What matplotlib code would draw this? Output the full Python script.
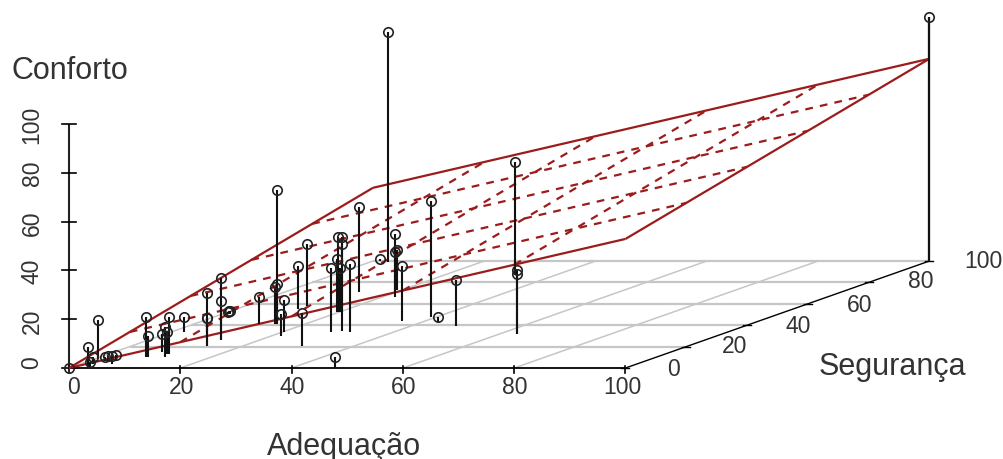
import numpy as np
import matplotlib
matplotlib.use("Agg")
import matplotlib.pyplot as plt

plt.rcParams['font.family'] = ['Liberation Sans', 'DejaVu Sans']

# values
adequacao = [0, 3.2, 0.6, 2.3, 3.2, 3.4, 5.7, 4.9, 2.9, 8.2, 8.4, 10.8, 2.3, 11.6, 8.5, 10.5,
             13.5, 13.5, 6.5, 13, 13, 1.2, 1.4, 1.0, 13.3, 14.6, 15.0, 11.7, 21.7, 20.3, 11.1,
             11, 30.6, 28.7, 47.8, 30.2, 20.0, 20.6, 19.8, 20.3, 32.2, 13.3, 3.2, 1.3, 22.6,
             35.8, 18.7, 19.1, 39, 42.8, 48.2, 63, 63, 32, 100]
seguranca = [0, 0.5, 8.4, 3.7, 1, 6.5, 3.7, 6.5, 6.5, 10.3, 10.5, 13, 33.6, 10.3, 15, 13,
             20.6, 20.6, 33.6, 26.2, 26.2, 50.5, 50.5, 50.5, 44, 41, 41, 41, 30, 33.6, 55,
             58, 20.6, 33.6, 0, 34.6, 52, 52, 52, 52, 33.6, 71, 99, 100, 66,
             44, 73, 73, 47.7, 43, 39, 32, 32, 88, 100]
conforto = [0, 8.2, 16, 2.9, 2, 2, 3.3, 2.5, 1.6, 16.4, 8.6, 15.2, 6.1, 12.3, 7.4, 9,
            21.7, 11.6, 5.7, 25.4, 16, 1.2, 1.4, 1.0, 53.7, 15.2, 16.4, 11, 9, 13, 17.6,
            25.4, 13.5, 26.2, 4.5, 38.5, 30.7, 28, 22, 18, 27.9, 34.8, 94.3, 1, 25.8,
            22.5, 15.6, 16.5, 47.5, 2, 18.9, 26.2, 24.6, 46, 100]

# regression plane
plane_a = 0.0
plane_x = 0.529
plane_y = 0.30

ticks = [0, 20, 40, 60, 80, 100]
floor_ticks = [20, 40, 60, 80]
plane_grid = [20, 40, 60, 80]

RED = "#9c1c1c"
GREY = "#c6c6c6"
TXT = "#333333"


def project(x, y, z=0):
    # oblique view, same as the scatterplot3d one
    x, y, z = np.asarray(x, float), np.asarray(y, float), np.asarray(z, float)
    return 69 + 5.565 * x + 3.04 * y, 369 - 1.07 * y - 2.44 * z


def line3d(ax, x, y, z=(0, 0), **kw):
    sx, sy = project(x, y, z)
    ax.plot(sx, sy, solid_capstyle="butt", **kw)


def plane(x, y):
    return plane_a + plane_x * x + plane_y * y


fig = plt.figure(figsize=(10.04, 4.6), dpi=100)
ax = fig.add_axes([0, 0, 1, 1])
ax.set_xlim(0, 1004)
ax.set_ylim(460, 0)
ax.axis("off")

# floor grid
for t in floor_ticks + [100]:
    line3d(ax, [0, 100], [t, t], color=GREY, lw=1.6, zorder=1)
for t in [0] + floor_ticks:
    line3d(ax, [t, t], [0, 100], color=GREY, lw=1.1, zorder=1)

# axes
line3d(ax, [0, 100], [0, 0], color="black", lw=1.3, zorder=2)
line3d(ax, [100, 100], [0, 100], color="black", lw=1.0, zorder=2)
line3d(ax, [0, 0], [0, 0], [0, 100], color="#222222", lw=1.5, zorder=2)
line3d(ax, [100, 100], [100, 100], [0, 100], color="#333333", lw=1.6, zorder=2)
for t in ticks:
    sx, sy = project(t, 0)
    ax.plot([sx, sx], [sy - 2, sy + 5], color="black", lw=1.2, zorder=2)
    sx, sy = project(0, 0, t)
    ax.plot([sx - 7, sx + 7], [sy, sy], color="black", lw=1.2, zorder=2)
    sx, sy = project(100, t)
    ax.plot([sx - 4, sx + 4], [sy, sy], color="black", lw=1.0, zorder=2)

# plane: solid border, dashed inner grid
for t in plane_grid:
    xs = np.array([t, t])
    ys = np.array([0, 100])
    line3d(ax, xs, ys, plane(xs, ys), color=RED, lw=1.6, ls=(0, (3.5, 3.2)), zorder=3)
    line3d(ax, ys, xs, plane(ys, xs), color=RED, lw=1.6, ls=(0, (3.5, 3.2)), zorder=3)
for xs, ys in [([0, 100], [0, 0]), ([0, 100], [100, 100]), ([0, 0], [0, 100]), ([100, 100], [0, 100])]:
    xs, ys = np.array(xs), np.array(ys)
    line3d(ax, xs, ys, plane(xs, ys), color=RED, lw=1.6, zorder=3)

# stems and points
for x, y, z in zip(adequacao, seguranca, conforto):
    line3d(ax, [x, x], [y, y], [0, z], color="#111111", lw=1.5, zorder=4)
sx, sy = project(adequacao, seguranca, conforto)
ax.plot(sx, sy, "o", ms=6.8, mfc="none", mec="#222222", mew=1.2, zorder=5)

# tick labels
tick_fs = 16.5
for t, lx in zip(ticks, [74, 182, 292, 404, 515, 622]):
    ax.text(lx, 388, str(t), fontsize=tick_fs, color=TXT, ha="center", va="center")
for t, ly in zip(ticks, [363, 321, 271, 223, 173, 125]):
    ax.text(32, ly, str(t), fontsize=tick_fs, color=TXT, ha="center", va="center", rotation=90)
for t, lx, ly in zip(ticks, [674, 735, 798, 860, 921, 983], [370, 347, 327, 306, 282, 262]):
    ax.text(lx, ly, str(t), fontsize=tick_fs, color=TXT, ha="center", va="center")

ax.text(12, 71, "Conforto", fontsize=22, color=TXT, ha="left", va="center")
ax.text(344, 447, "Adequação", fontsize=22, color=TXT, ha="center", va="center")
ax.text(892, 367, "Segurança", fontsize=22, color=TXT, ha="center", va="center")

fig.savefig("out.png", dpi=100)
